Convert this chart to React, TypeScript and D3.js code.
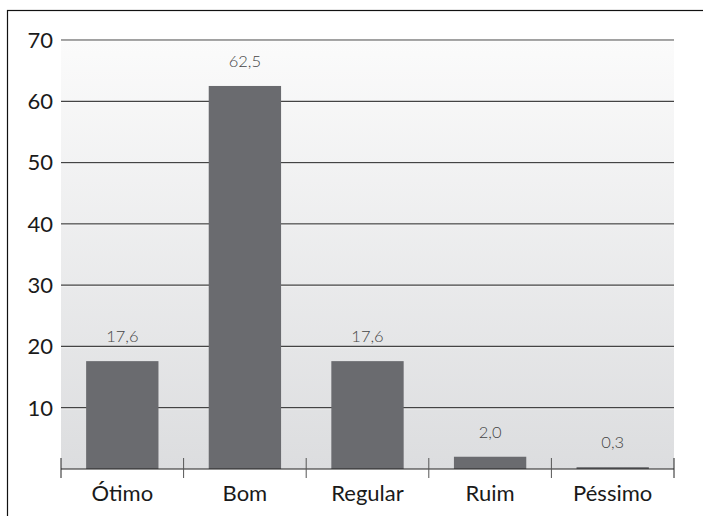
import React from "react";
import * as d3 from "d3";

const width = 703,
  height = 516;
const margin = { top: 40, right: 29, bottom: 47, left: 61 };

const categories = ["Ótimo", "Bom", "Regular", "Ruim", "Péssimo"];
const values = [17.6, 62.5, 17.6, 2.0, 0.3];
const valueLabels = ["17,6", "62,5", "17,6", "2,0", "0,3"];
const yTicks = [10, 20, 30, 40, 50, 60, 70];

const font = "Lato, 'Open Sans', sans-serif";

export default function App() {
  const x = d3
    .scaleBand<string>()
    .domain(categories)
    .range([margin.left, width - margin.right])
    .paddingInner(0.41)
    .paddingOuter(0.205);

  const y = d3
    .scaleLinear()
    .domain([0, 70])
    .range([height - margin.bottom, margin.top]);

  const step = x.step();
  const x0 = margin.left;
  const x1 = width - margin.right;
  const y0 = y(0);

  // category boundaries for axis ticks
  const bounds = d3.range(categories.length + 1).map((i) => x0 + i * step);

  return (
    <svg
      width={width}
      height={height}
      style={{ position: "absolute", left: 0, top: 0 }}
    >
      <defs>
        <linearGradient id="bg" x1="0" y1="0" x2="0" y2="1">
          <stop offset="0%" stopColor="#fbfbfb" />
          <stop offset="100%" stopColor="#dcdddf" />
        </linearGradient>
      </defs>
      <rect width={width} height={height} fill="#fff" />
      <rect
        x={7.5}
        y={10.5}
        width={width + 10}
        height={height + 10}
        fill="none"
        stroke="#111"
        strokeWidth={1.2}
      />
      <rect
        x={x0}
        y={y(70)}
        width={x1 - x0}
        height={y0 - y(70)}
        fill="url(#bg)"
      />
      {yTicks.map((t) => (
        <g key={t}>
          <line
            x1={x0}
            x2={x1}
            y1={y(t)}
            y2={y(t)}
            stroke="#444"
            strokeWidth={1.2}
          />
          <line
            x1={x0}
            x2={x1}
            y1={y(t) + 1.3}
            y2={y(t) + 1.3}
            stroke="#fff"
            strokeOpacity={0.5}
            strokeWidth={0.8}
          />
          <text
            x={53}
            y={y(t)}
            dy="0.36em"
            textAnchor="end"
            fontFamily={font}
            fontSize={22}
            fill="#1a1a1a"
          >
            {t}
          </text>
        </g>
      ))}
      {categories.map((c, i) => (
        <g key={c}>
          <rect
            x={x(c)}
            y={y(values[i])}
            width={x.bandwidth()}
            height={y0 - y(values[i])}
            fill="#6a6b6f"
          />
          <text
            x={(x(c) as number) + x.bandwidth() / 2}
            y={y(values[i]) - 19}
            textAnchor="middle"
            fontFamily={font}
            fontWeight={300}
            fontSize={16.5}
            fill="#444"
          >
            {valueLabels[i]}
          </text>
          <text
            x={(x(c) as number) + x.bandwidth() / 2}
            y={501}
            textAnchor="middle"
            fontFamily={font}
            fontSize={22}
            fill="#1a1a1a"
          >
            {c}
          </text>
        </g>
      ))}
      <line x1={x0} x2={x1} y1={y0} y2={y0} stroke="#222" strokeWidth={1.2} />
      {bounds.map((b, i) => (
        <line
          key={i}
          x1={b}
          x2={b}
          y1={y0 - 11}
          y2={y0 + 9}
          stroke={i === 0 || i === bounds.length - 1 ? "#222" : "#555"}
          strokeWidth={1}
        />
      ))}
    </svg>
  );
}
